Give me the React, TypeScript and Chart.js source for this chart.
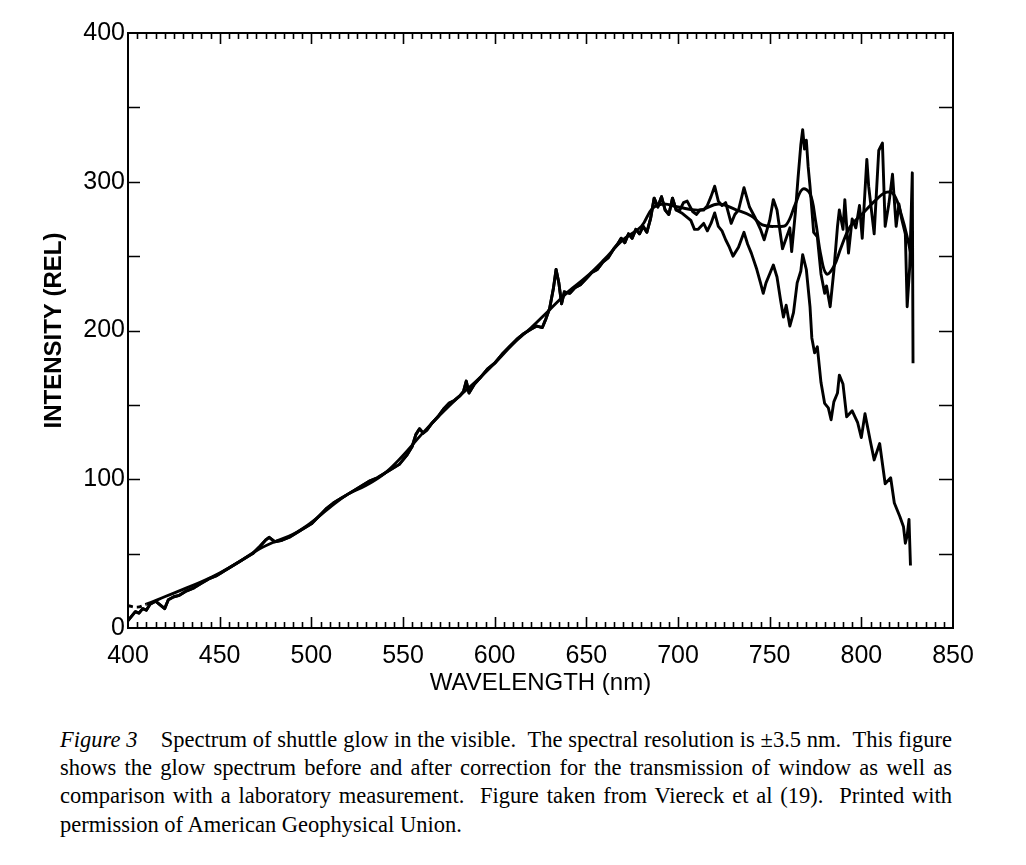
import { useEffect, useRef } from "react";
import { Chart, registerables } from "chart.js";

Chart.register(...registerables);

// laboratory measurement (smooth curve)
const labWl = [400, 405, 410, 420, 430, 440, 450, 460, 470, 480, 490, 500, 510, 520, 530, 540, 550, 560, 570, 580, 590, 600, 610, 620, 630, 640, 650, 660, 670, 680, 686, 692, 700, 712, 722, 732, 740, 746, 754, 759, 764, 768, 772, 775, 778, 781, 785, 789, 794, 801, 809, 814, 818, 822, 825, 828];
const labVal = [15, 14, 16, 21, 26, 31, 37, 44, 52, 58, 63, 71, 81, 90, 96, 104, 116, 130, 143, 155, 166, 178, 191, 202, 214, 226, 236, 248, 261, 270, 282, 285, 283, 281, 285, 281, 277, 271, 270, 271, 285, 295, 292, 274, 250, 238, 243, 256, 270, 279, 289, 293, 291, 277, 263, 245];

// glow spectrum, part common to both traces (before / after correction)
const glowWl = [400, 402, 404, 406, 408, 410, 412, 415, 418, 420, 422, 425, 428, 432, 436, 440, 444, 448, 452, 456, 460, 464, 468, 472, 475, 477, 480, 484, 488, 492, 496, 500, 504, 508, 512, 516, 520, 524, 528, 532, 536, 540, 544, 548, 552, 555, 557, 559, 561, 563, 566, 569, 572, 575, 578, 581, 583, 584.5, 586, 589, 592, 596, 600, 604, 608, 612, 616, 620, 623, 626, 628, 630, 632, 633.5, 635, 636.5, 638, 641, 644, 647, 650, 653, 656, 659, 662, 665, 667, 669, 671, 673, 675, 677, 679, 681, 683, 685, 687, 689, 691, 693, 695, 697, 699];
const glowVal = [5, 8, 11, 10, 13, 12, 16, 18, 15, 13, 19, 21, 22, 25, 27, 30, 33, 35, 38, 41, 44, 47, 50, 55, 59, 61, 58, 59, 61, 64, 67, 70, 75, 80, 84, 87, 90, 93, 96, 99, 101, 104, 107, 110, 116, 122, 130, 134, 131, 133, 138, 142, 147, 151, 153, 156, 159, 166, 158, 164, 168, 174, 178, 184, 189, 194, 198, 201, 203, 202, 208, 215, 228, 241, 232, 218, 226, 225, 229, 231, 235, 239, 241, 246, 249, 255, 258, 262, 259, 265, 262, 268, 265, 270, 266, 275, 289, 283, 290, 281, 278, 289, 281];

// corrected for window transmission
const corrWl = [701, 703, 705, 708, 710, 712, 714, 716, 718, 720, 722, 724, 726, 729, 731, 733, 736, 739, 742, 745, 747, 750, 752, 754, 757, 759, 761, 762, 764, 765.5, 767, 768, 769, 770, 771, 772, 774, 776, 778, 780, 781, 783, 785, 787, 788, 790, 791, 793, 795, 797, 799, 800.5, 803, 804, 807, 809.5, 811.5, 813, 815, 817, 819, 820.5, 822, 824, 825, 826.4, 827.8, 828.2];
const corrVal = [281, 286, 287, 280, 278, 281, 281, 284, 290, 297, 287, 284, 286, 272, 278, 281, 296, 283, 276, 268, 261, 274, 288, 281, 255, 262, 269, 253, 279, 303, 325, 335, 322, 328, 310, 297, 266, 263, 238, 225, 230, 216, 240, 270, 281, 268, 288, 252, 275, 269, 284, 262, 315, 297, 265, 321, 326, 270, 285, 305, 270, 285, 275, 265, 216, 243, 306, 178];

// uncorrected
const rawWl = [702, 705, 707, 709, 711, 714, 716, 718, 720, 722, 724, 726, 728, 730, 733, 736, 738, 740, 743, 745, 746.5, 748, 750, 752, 754, 756, 757.5, 759, 761, 763, 765, 767, 768, 770, 772, 773, 774.5, 776, 778, 780, 782, 783.5, 785, 787, 788, 790, 792, 795, 798, 800, 802, 805, 807, 810, 813, 816, 818, 821, 823, 824, 825, 826, 826.8];
const rawVal = [279, 276, 274, 268, 268, 272, 267, 272, 279, 270, 267, 261, 256, 250, 256, 266, 258, 252, 241, 232, 225, 232, 238, 244, 236, 220, 209, 217, 203, 212, 232, 240, 251, 241, 216, 195, 185, 189, 165, 151, 148, 140, 152, 158, 170, 164, 142, 146, 138, 128, 144, 125, 113, 124, 97, 101, 84, 75, 68, 57, 62, 73, 42];

const captionLines = [
  "Spectrum of shuttle glow in the visible.  The spectral resolution is \u00b13.5 nm.  This figure",
  "shows the glow spectrum before and after correction for the transmission of window as well as",
  "comparison with a laboratory measurement.  Figure taken from Viereck et al (19).  Printed with",
  "permission of American Geophysical Union.",
];

const FONT = "'Liberation Sans Narrow', 'Liberation Sans', Arial, sans-serif";

const pts = (xs: number[], ys: number[]) => xs.map((x, i) => ({ x, y: ys[i] }));

// box around the plot + inward tick marks (minor every 5 nm, y every 50)
const framePlugin = {
  id: "frame",
  afterDatasetsDraw(chart: any) {
    const { ctx, chartArea: a, scales } = chart;
    ctx.save();
    ctx.strokeStyle = "#000";
    ctx.lineWidth = 2;
    ctx.strokeRect(a.left, a.top, a.right - a.left, a.bottom - a.top);
    ctx.lineWidth = 1.6;
    ctx.beginPath();
    for (let v = 405; v < 850; v += 5) {
      const px = Math.round(scales.x.getPixelForValue(v)) + 0.5;
      const len = v % 50 === 0 ? 11 : 6;
      ctx.moveTo(px, a.bottom);
      ctx.lineTo(px, a.bottom - len);
      ctx.moveTo(px, a.top);
      ctx.lineTo(px, a.top + len);
    }
    for (let v = 50; v < 400; v += 50) {
      const py = Math.round(scales.y.getPixelForValue(v)) + 0.5;
      ctx.moveTo(a.left, py);
      ctx.lineTo(a.left + 12, py);
      ctx.moveTo(a.right, py);
      ctx.lineTo(a.right - 14, py);
    }
    ctx.stroke();
    ctx.restore();
  },
};

function SpectrumChart() {
  const canvasRef = useRef<HTMLCanvasElement | null>(null);

  useEffect(() => {
    if (!canvasRef.current) return;
    const line = {
      borderColor: "#000",
      borderWidth: 2.9,
      borderJoinStyle: "round" as const,
      pointRadius: 0,
      fill: false,
    };
    const chart = new Chart(canvasRef.current, {
      type: "line",
      data: {
        datasets: [
          {
            ...line,
            label: "Laboratory",
            data: pts(labWl, labVal),
            tension: 0.4,
            segment: {
              borderDash: (c: any) => (c.p0.parsed.x < 410 ? [5, 4] : undefined),
            },
          },
          {
            ...line,
            label: "Uncorrected",
            data: pts([...glowWl, ...rawWl], [...glowVal, ...rawVal]),
            tension: 0,
          },
          {
            ...line,
            label: "Corrected",
            data: pts([...glowWl, ...corrWl], [...glowVal, ...corrVal]),
            tension: 0,
          },
        ],
      },
      options: {
        animation: false,
        responsive: false,
        layout: { padding: { left: 0, right: 73, top: 33, bottom: 0 } },
        plugins: {
          legend: { display: false },
          tooltip: { enabled: false },
        },
        scales: {
          x: {
            type: "linear",
            min: 400,
            max: 850,
            afterFit: (s: any) => {
              s.height = 72;
            },
            grid: { display: false, drawTicks: false },
            border: { display: false },
            ticks: {
              stepSize: 50,
              color: "#000",
              padding: 13,
              maxRotation: 0,
              autoSkip: false,
              font: { family: FONT, size: 25 },
            },
            title: {
              display: true,
              text: "WAVELENGTH (nm)",
              color: "#000",
              font: { family: FONT, size: 24 },
              padding: { top: 0, bottom: 2 },
            },
          },
          y: {
            type: "linear",
            min: 0,
            max: 400,
            afterFit: (s: any) => {
              s.width = 128;
            },
            grid: { display: false, drawTicks: false },
            border: { display: false },
            ticks: {
              stepSize: 100,
              color: "#000",
              padding: 3,
              font: { family: FONT, size: 25 },
            },
            title: {
              display: true,
              text: "INTENSITY (REL)",
              color: "#000",
              font: { family: FONT, size: 24, weight: "bold" },
              padding: { top: 40, bottom: 0 },
            },
          },
        },
      },
      plugins: [framePlugin],
    });
    return () => chart.destroy();
  }, []);

  return (
    <div style={{ position: "absolute", left: 0, top: 0, width: 1026, height: 700 }}>
      <canvas ref={canvasRef} width={1026} height={700} />
    </div>
  );
}

export default function App() {
  const lineStyle = { textAlign: "justify" as const, textAlignLast: "justify" as const, whiteSpace: "pre-wrap" as const };
  return (
    <div style={{ position: "absolute", left: 0, top: 0, width: 1026, height: 865, background: "#fff" }}>
      <SpectrumChart />
      <div
        style={{
          position: "absolute",
          left: 60,
          top: 726,
          width: 892,
          fontFamily: "'Liberation Serif', 'Times New Roman', serif",
          fontSize: 22.5,
          lineHeight: "28.2px",
          color: "#000",
        }}
      >
        <div style={lineStyle}>
          <i>Figure 3</i>
          {"    "}
          {captionLines[0]}
        </div>
        <div style={lineStyle}>{captionLines[1]}</div>
        <div style={lineStyle}>{captionLines[2]}</div>
        <div>{captionLines[3]}</div>
      </div>
    </div>
  );
}
